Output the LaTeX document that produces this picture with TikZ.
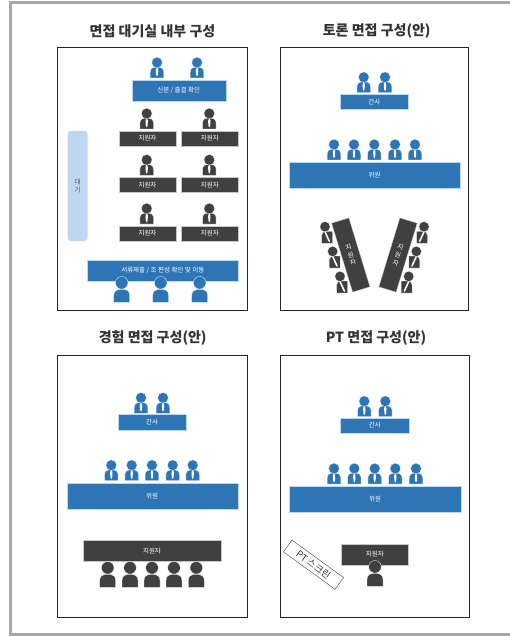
\documentclass[tikz,border=0pt]{standalone}
\usepackage{fontspec}
\setmainfont{Noto Sans CJK KR}
\definecolor{deskblue}{HTML}{2E75B6}
\definecolor{deskdark}{HTML}{404040}
\definecolor{waitblue}{HTML}{BDD7EE}
\definecolor{framegrey}{HTML}{A6A6A6}

\tikzset{
    person/.pic={
        \path[pic actions] (-6.8,0) -- (-6.8,-6) .. controls (-6.8,-9.5) and (-4,-11) .. (-2,-11) -- (2,-11) .. controls (4,-11) and (6.8,-9.5) .. (6.8,-6) -- (6.8,0) -- cycle;
        \path[pic actions] (0,-15.5) circle[radius=5.4pt];
        \fill[white] (0,-10.5) -- (1.2,-8.5) -- (.9,-3.5) -- (0,-1.5) -- (-.9,-3.5) -- (-1.2,-8.5) -- cycle;
    },
    guest/.pic={
        \path[pic actions] (-8,0) -- (-8,-7) .. controls (-8,-11) and (-5,-13) .. (-2.5,-13) -- (2.5,-13) .. controls (5,-13) and (8,-11) .. (8,-7) -- (8,0) -- cycle;
        \path[pic actions] (0,-19.5) circle[radius=6.3pt];
    },
    sidelong/.pic={
        \path[pic actions] (-5.5,0) -- (-5.5,-8) .. controls (-5.5,-11) and (-3,-12) .. (-1,-12) -- (5.5,-12) -- (5.5,0) -- cycle;
        \path[pic actions] (-2,-16.6) circle[radius=5.2pt];
        \fill[white] (-2.8,-11.5) -- (-1.2,-11.5) -- (3,-2.5) -- (2.5,-1) -- (1.2,-2.5) -- cycle;
    }
}

\begin{document}
\begin{tikzpicture}[
    x=1pt, y=-1pt,
    blueman/.style={fill=deskblue, draw=white, line width=.3pt},
    darkman/.style={fill=deskdark, draw=white, line width=.3pt},
    panel/.style={draw=black!85, line width=1pt, fill=white},
    heading/.style={font=\bfseries\fontsize{14}{16}\selectfont, text=black!80, inner sep=0},
    desk/.style={draw=white!70!deskblue, line width=.3pt, text=white, inner sep=0, align=center,
                 font=\fontsize{6.5}{8}\selectfont},
    bluedesk/.style={desk, fill=deskblue},
    darkdesk/.style={desk, fill=deskdark, draw=white!70!deskdark}]

    \useasboundingbox (0,0) rectangle (510,636);
    \fill[white] (0,0) rectangle (510,636);
    \draw[framegrey, line width=3pt] (510,2.5) -- (10.5,2.5) -- (10.5,634.3) -- (510,634.3);

    \node[heading] (title1) at (152.5,31.5) {면접 대기실 내부 구성};
    \node[heading] (title2) at (376.7,31.5) {토론 면접 구성(안)};
    \node[heading] (title3) at (152.7,338) {경험 면접 구성(안)};
    \node[heading] (title4) at (376,338) {PT 면접 구성(안)};

    \draw[panel] (57,48) rectangle (247,310);
    \draw[panel] (280,48) rectangle (468.5,310);
    \draw[panel] (57,355) rectangle (247,617);
    \draw[panel] (280,355) rectangle (469,617);

    % waiting room
    \node[bluedesk, minimum width=94pt, minimum height=20.4pt] (check) at (178.7,90.5) {신분 / 출결 확인};
    \foreach \x in {157,197} \pic[blueman] at (\x,78) {person};
    \foreach \y/\n in {138.5/a,184.8/b,233.5/c} {
        \node[darkdesk, minimum width=57pt, minimum height=15pt] (seat\n1) at (147.5,\y) {지원자};
        \node[darkdesk, minimum width=57pt, minimum height=15pt] (seat\n2) at (209.8,\y) {지원자};
        \pic[darkman] at (146.7,\y-9.5) {person};
        \pic[darkman] at (209.3,\y-9.5) {person};
    }
    \node[fill=waitblue, rounded corners=3pt, minimum width=20pt, minimum height=110pt, inner sep=0] (wait) at (77.7,186) {};
    \node[font=\fontsize{6.5}{7.5}\selectfont, text=black!65, align=center, inner sep=0] (waittext) at (wait) {대\\기};
    \node[bluedesk, minimum width=151pt, minimum height=20.7pt] (submit) at (162.8,270.3) {서류제출 / 조 편성 확인 및 이동};
    \foreach \x in {121.7,160.7,199.7} \pic[blueman] at (\x,302.3) {guest};

    % discussion
    \foreach \x in {363.7,385} \pic[blueman] at (\x,92.7) {person};
    \node[bluedesk, minimum width=68pt, minimum height=15.3pt] (staff2) at (374.3,101.7) {간사};
    \foreach \x in {334,354,374.3,395,415} \pic[blueman] at (\x,160) {person};
    \node[bluedesk, minimum width=171pt, minimum height=26pt] (board2) at (374.5,175.3) {위원};
    \foreach \x/\y in {327/243.3,334.7/268,342/293} \pic[darkman] at (\x,\y) {sidelong};
    \foreach \x/\y in {422/243.3,414.3/268,406.7/293} \pic[darkman, xscale=-1] at (\x,\y) {sidelong};
    \node[darkdesk, rotate=17, minimum width=18pt, minimum height=72pt] (left) at (350.75,255) {지\\원\\자};
    \node[darkdesk, rotate=-17, minimum width=18pt, minimum height=72pt] (right) at (398,255) {지\\원\\자};

    % experience
    \foreach \x in {141,163} \pic[blueman] at (\x,413.3) {person};
    \node[bluedesk, minimum width=68.6pt, minimum height=15.7pt] (staff3) at (152,422.2) {간사};
    \foreach \x in {111.3,131.7,152,172.7,192.7} \pic[blueman] at (\x,480.7) {person};
    \node[bluedesk, minimum width=171pt, minimum height=26pt] (board3) at (152.2,495.7) {위원};
    \node[darkdesk, minimum width=137.4pt, minimum height=20.7pt] (appl3) at (152,550.7) {지원자};
    \foreach \x in {107.7,130,152,174,196.3} \pic[darkman] at (\x,587.3) {guest};

    % PT
    \foreach \x in {364.3,385.3} \pic[blueman] at (\x,416.7) {person};
    \node[bluedesk, minimum width=69pt, minimum height=15.6pt] (staff4) at (374.8,425.5) {간사};
    \foreach \x in {334,354.3,374.7,395.3,416} \pic[blueman] at (\x,484) {person};
    \node[bluedesk, minimum width=171.4pt, minimum height=26.3pt] (board4) at (375,499.2) {위원};
    \node[darkdesk, minimum width=67pt, minimum height=20.7pt] (appl4) at (374.8,554.3) {지원자};
    \pic[darkman] at (375,586.3) {guest};
    \node[draw=black!75, line width=.4pt, fill=white, rotate=-36, minimum width=63.7pt, minimum height=14.5pt, inner sep=0,
          font=\fontsize{9.5}{10}\selectfont, text=black!80] (screen) at (313.5,564.7) {PT 스크린};

\end{tikzpicture}
\end{document}
